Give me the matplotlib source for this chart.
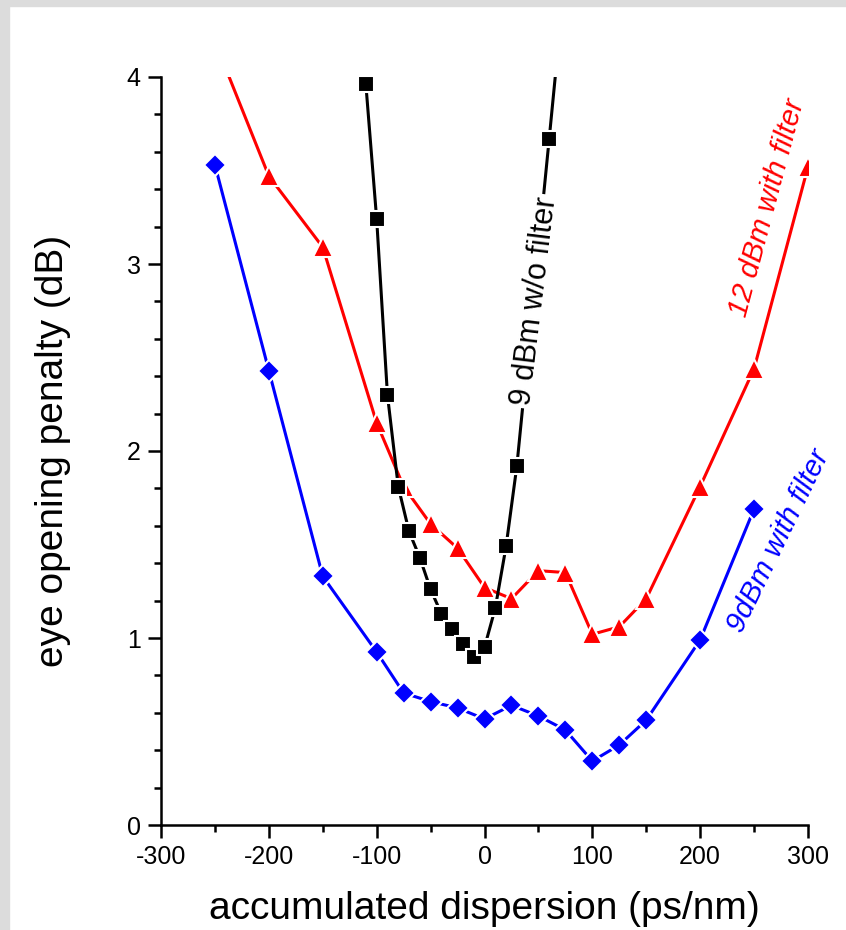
import numpy as np
import matplotlib.pyplot as plt
from matplotlib.patches import Rectangle
from matplotlib.ticker import MultipleLocator

plt.rcParams["axes.unicode_minus"] = False
plt.rcParams["font.family"] = ["Liberation Sans", "DejaVu Sans"]

# data
disp_nofilt = [-120, -110, -100, -90, -80, -70, -60, -50, -40, -30, -20, -10, 0, 10, 20, 30, 60, 70]
pen_nofilt = [4.30, 3.96, 3.24, 2.30, 1.81, 1.57, 1.43, 1.26, 1.13, 1.05, 0.97, 0.90, 0.95, 1.16, 1.49, 1.92, 3.67, 4.26]

disp_12 = [-250, -200, -150, -100, -75, -50, -25, 0, 25, 50, 75, 100, 125, 150, 200, 250, 300]
pen_12 = [4.19, 3.47, 3.09, 2.15, 1.81, 1.61, 1.48, 1.27, 1.21, 1.36, 1.35, 1.02, 1.06, 1.21, 1.81, 2.44, 3.52]

disp_9 = [-250, -200, -150, -100, -75, -50, -25, 0, 25, 50, 75, 100, 125, 150, 200, 250]
pen_9 = [3.53, 2.43, 1.33, 0.925, 0.706, 0.66, 0.626, 0.567, 0.64, 0.583, 0.508, 0.342, 0.428, 0.561, 0.99, 1.69]

fig = plt.figure(figsize=(8.46, 9.30), dpi=100)
fig.patch.set_facecolor("white")
# gray frame on the top and left edge
fig.patches.append(Rectangle((0, 0), 9 / 846, 1, transform=fig.transFigure, color="#dcdcdc", zorder=0))
fig.patches.append(Rectangle((0, 1 - 6 / 930), 1, 6 / 930, transform=fig.transFigure, color="#dcdcdc", zorder=0))

ax = fig.add_axes([161 / 846, 1 - 825 / 930, (808 - 161) / 846, (825 - 77) / 930])

lw = 2.2
ax.plot(disp_nofilt, pen_nofilt, color="black", lw=lw, marker="s", ms=11,
        mec="white", mew=1.5, zorder=3)
ax.plot(disp_12, pen_12, color="red", lw=lw, marker="^", ms=14,
        mec="white", mew=1.5, zorder=2)
ax.plot(disp_9, pen_9, color="blue", lw=lw, marker="D", ms=11,
        mec="white", mew=1.5, zorder=2)

ax.set_xlim(-300, 300)
ax.set_ylim(0, 4)
ax.xaxis.set_major_locator(MultipleLocator(100))
ax.xaxis.set_minor_locator(MultipleLocator(50))
ax.yaxis.set_major_locator(MultipleLocator(1))
ax.yaxis.set_minor_locator(MultipleLocator(0.2))

for side in ["top", "right"]:
    ax.spines[side].set_visible(False)
for side in ["left", "bottom"]:
    ax.spines[side].set_linewidth(1.8)

ax.tick_params(which="major", direction="out", length=9.5, width=1.8,
               labelsize=18, pad=5)
ax.tick_params(which="minor", direction="out", length=5, width=1.8)

ax.set_xlabel("accumulated dispersion (ps/nm)", fontsize=28, labelpad=16)
ax.set_ylabel("eye opening penalty (dB)", fontsize=28, labelpad=40)

box = dict(facecolor="white", edgecolor="none", pad=2)
ax.text(47, 2.8, "9 dBm w/o filter", rotation=83, color="black", fontsize=22,
        ha="center", va="center", bbox=box, zorder=4)
ax.text(262, 3.3, "12 dBm with filter", rotation=75, color="red", fontsize=21,
        style="italic", ha="center", va="center", zorder=4)
ax.text(273, 1.52, "9dBm with filter", rotation=64, color="blue", fontsize=21,
        style="italic", ha="center", va="center", zorder=4)

fig.savefig("out.png", dpi=100)
